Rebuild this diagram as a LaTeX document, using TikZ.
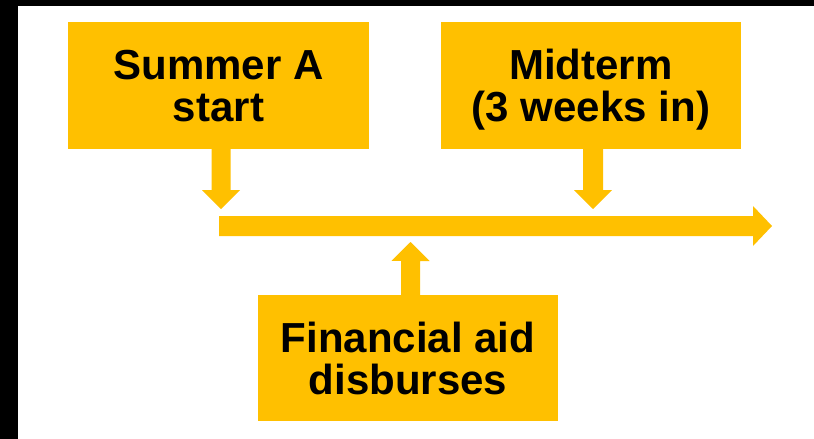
\documentclass[tikz,border=0pt]{standalone}
\usepackage{fontspec}
\setmainfont{Liberation Sans}
\usetikzlibrary{calc}
\definecolor{gold}{HTML}{FFC000}
\tikzset{
  milestone/.style={fill=gold, inner sep=0pt, minimum width=300pt, minimum height=127pt,
    align=center, text depth=0pt, font=\fontsize{42}{42}\selectfont\bfseries},
  arrowfill/.style={fill=gold}
}
\begin{document}
\begin{tikzpicture}[x=1pt,y=-1pt]
  % page frame
  \useasboundingbox (0,0) rectangle (814,439);
  \fill[white] (0,0) rectangle (814,439);
  \fill[black] (0,0) rectangle (814,6);
  \fill[black] (0,0) rectangle (18,439);

  % milestone boxes
  \node[milestone, minimum width=301pt] (start) at (218.5,85.5) {Summer A\\start};
  \node[milestone] (mid) at (591,85.5) {Midterm\\(3 weeks in)};
  \node[milestone, minimum height=126pt] (aid) at (408,358) {Financial aid\\disburses};

  % timeline arrow
  \coordinate (tlstart) at (219,226);
  \coordinate (tlend) at (772,226);
  \fill[arrowfill] ($(tlstart)+(0,-10)$) -- ($(tlend)+(-19,-10)$) -- ++(0,-10)
    -- (tlend) -- ($(tlend)+(-19,20)$) -- ++(0,-10) -- ($(tlstart)+(0,10)$) -- cycle;

  % arrow tips touching the timeline
  \coordinate (t1) at (221,209);
  \coordinate (t2) at (593,209);
  \coordinate (t3) at (410.5,242);

  % Summer A start -> timeline
  \fill[arrowfill] ($(start.south -| t1)+(-9.5,0)$) -- ++(0,41) -- ++(-9.5,0)
    -- (t1) -- ++(19,-19) -- ++(-9.5,0) -- ++(0,-41) -- cycle;
  % Midterm -> timeline
  \fill[arrowfill] ($(mid.south -| t2)+(-10,0)$) -- ++(0,41) -- ++(-9,0)
    -- (t2) -- ++(19,-19) -- ++(-9,0) -- ++(0,-41) -- cycle;
  % Financial aid -> timeline
  \fill[arrowfill] ($(aid.north -| t3)+(-9.5,0)$) -- ++(0,-34) -- ++(-9.5,0)
    -- (t3) -- ++(19,19) -- ++(-9.5,0) -- ++(0,34) -- cycle;
\end{tikzpicture}
\end{document}
